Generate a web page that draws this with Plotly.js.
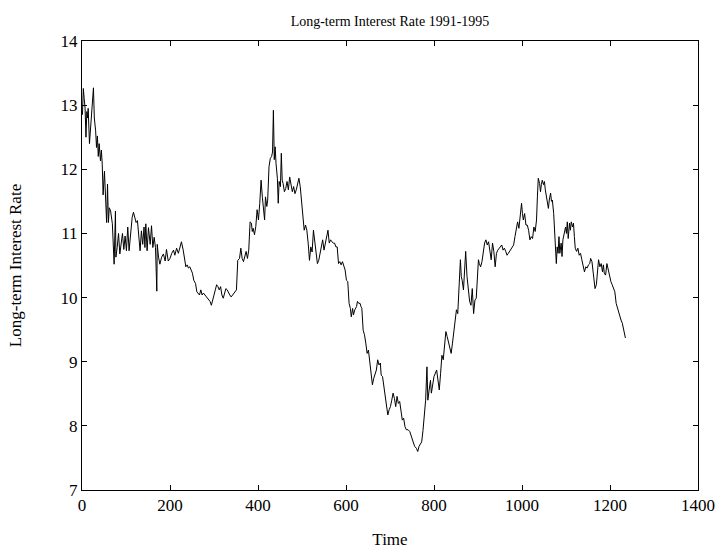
<!DOCTYPE html>
<html>
<head>
<meta charset="utf-8">
<script src="https://cdn.plot.ly/plotly-3.0.1.min.js"></script>
<style>html,body{margin:0;padding:0;background:#fff;}#chart{width:725px;height:554px;}</style>
</head>
<body>
<div id="chart"></div>
<script>
const timeIdx = [1,3,5,7,9,11,13,14,17,20,22,26,28,31,33,35,37,39,42,44,46,48,51,54,56,58,60,62,65,69,73,76,77,80,83,86,89,92,95,98,101,104,107,110,114,117,120,123,126,129,132,135,138,141,143,145,148,151,155,158,161,164,167,170,171,174,177,181,185,189,192,196,
200,204,208,211,215,219,223,226,230,234,236,239,242,245,248,251,254,258,261,264,267,270,273,276,279,282,285,288,291,294,297,300,303,306,309,312,315,318,321,324,327,330,333,336,339,342,345,348,351,354,358,361,364,367,370,373,376,379,382,385,387,389,392,395,398,401,404,407,410,415,417,420,422,425,428,431,433,435,437,439,441,444,446,448,451,453,455,457,460,463,466,469,472,475,478,481,484,487,490,493,496,499,502,505,508,511,514,517,520,523,526,529,532,535,538,541,544,547,550,553,556,559,562,565,568,571,574,577,580,583,586,589,592,595,598,601,604,607,
610,612,615,617,620,624,626,629,632,634,636,639,642,645,648,651,654,657,660,663,666,669,672,675,678,680,683,686,689,692,695,698,701,704,707,710,713,716,719,722,725,728,731,734,737,741,745,749,753,756,760,763,766,769,772,775,778,781,784,786,789,792,794,797,800,
806,809,812,815,818,821,824,827,830,833,836,839,842,845,848,851,854,857,860,862,864,867,870,872,875,878,881,884,887,890,893,896,899,901,903,906,909,912,915,918,921,924,927,930,933,936,939,942,945,948,951,954,957,960,963,966,969,972,975,978,981,984,987,990,993,996,999,1001,1003,1006,1009,1012,1015,1018,1021,1024,1027,1030,1033,1035,1037,1040,1042,1044,1046,1049,1051,1053,1056,1058,1060,1062,1065,1067,1069,1072,1074,1076,1078,1080,1082,1084,1086,1089,1091,1093,1096,1099,1101,1103,1105,1108,1110,1112,1115,1117,1119,1121,1124,1127,1130,1133,1136,1139,1142,1145,1148,1151,1154,1156,1159,1162,1164,1166,1169,1171,1174,1177,1180,1183,1185,1187,1190,1193,1196,1199,1202,1205,1208,1211,1214,1217,1220,1222,1225,1228,1231,1233,1235];
const rate = [12.85,13.26,13.1,12.95,12.5,12.9,12.8,12.95,12.4,12.65,12.8,13.27,12.8,12.6,12.34,12.52,12.2,12.4,12.13,12.3,12.08,11.6,11.97,11.45,11.17,11.77,11.17,11.4,11.35,11.15,10.52,11.35,10.63,10.78,11.0,10.68,10.83,11.0,10.75,10.96,10.73,11.1,10.73,11.0,11.25,11.33,11.25,11.17,11.2,10.9,10.73,11.04,10.83,11.1,10.78,11.15,10.73,11.09,10.83,11.12,10.78,10.94,10.78,10.1,10.83,10.63,10.52,10.63,10.68,10.57,10.75,10.57,
10.61,10.69,10.74,10.66,10.77,10.69,10.82,10.87,10.74,10.59,10.48,10.51,10.46,10.48,10.43,10.38,10.27,10.22,10.09,10.07,10.04,10.12,10.04,10.07,10.04,10.01,9.99,9.96,9.94,9.88,9.99,10.04,10.12,10.2,10.17,10.12,10.17,10.04,9.99,10.09,10.14,10.12,10.07,10.04,10.01,10.04,10.07,10.09,10.12,10.58,10.61,10.77,10.61,10.56,10.64,10.72,10.61,10.74,11.18,11.16,11.03,11.08,10.98,11.11,11.37,11.21,11.47,11.83,11.56,11.21,11.57,11.42,11.52,12.04,12.17,12.2,12.27,12.92,12.15,12.35,12.09,11.86,11.47,11.81,11.73,12.25,11.83,11.78,11.65,11.7,11.81,11.68,11.88,11.78,11.65,11.73,11.62,11.68,11.75,11.86,11.73,11.52,11.31,11.05,11.13,11.05,10.85,10.58,10.79,10.71,11.05,10.85,10.64,10.53,10.58,10.69,10.79,10.9,10.74,10.85,11.0,11.05,10.85,10.9,10.87,10.85,10.85,10.79,10.79,10.53,10.56,10.51,10.56,10.48,10.43,10.27,10.25,9.91,
9.83,9.7,9.83,9.73,9.81,9.86,9.94,9.91,9.91,9.86,9.83,9.49,9.42,9.29,9.13,9.18,8.98,8.77,8.64,8.74,8.82,8.87,9.03,8.95,8.98,8.79,8.77,8.61,8.51,8.3,8.17,8.25,8.3,8.4,8.51,8.43,8.3,8.46,8.35,8.38,8.2,8.09,8.12,7.99,7.94,7.94,7.91,7.83,7.73,7.68,7.65,7.6,7.68,7.73,7.75,7.93,8.12,8.4,8.92,8.4,8.56,8.71,8.51,8.66,8.77,
8.87,8.71,8.56,8.82,9.1,9.03,9.23,9.47,9.39,9.29,9.21,9.13,9.29,9.49,9.7,9.81,9.75,10.12,10.59,10.33,10.27,10.12,10.53,10.72,10.33,10.07,9.94,9.88,10.14,9.75,9.96,9.99,10.48,10.59,10.53,10.48,10.56,10.72,10.85,10.9,10.82,10.87,10.72,10.59,10.85,10.72,10.48,10.69,10.74,10.77,10.79,10.82,10.74,10.77,10.72,10.66,10.69,10.72,10.74,10.77,10.82,10.95,11.1,11.18,11.08,11.31,11.47,11.31,11.21,11.31,11.13,11.13,11.05,10.9,10.95,10.92,11.1,11.03,11.21,11.57,11.86,11.78,11.65,11.76,11.83,11.76,11.81,11.68,11.57,11.52,11.39,11.52,11.63,11.5,11.52,11.31,11.0,10.85,10.53,10.79,10.69,10.95,10.69,10.85,10.64,10.9,11.0,11.1,11.0,11.18,10.92,11.16,11.05,11.18,11.1,11.16,10.95,10.77,10.72,10.77,10.66,10.69,10.59,10.48,10.4,10.48,10.46,10.51,10.53,10.61,10.56,10.38,10.25,10.14,10.2,10.38,10.59,10.48,10.53,10.4,10.51,10.38,10.35,10.53,10.43,10.33,10.25,10.2,10.14,10.09,9.91,9.83,9.75,9.7,9.65,9.6,9.52,9.44,9.37];
const xTicks = [0,200,400,600,800,1000,1200,1400];
const yTicks = [7,8,9,10,11,12,13,14];

const serif = "Liberation Serif, Times New Roman, serif";
const axisCommon = {
  showline: true, linecolor: '#000', linewidth: 1, mirror: 'ticks',
  ticks: 'inside', ticklen: 5, tickcolor: '#000', tickwidth: 1,
  showgrid: false, zeroline: false,
  tickfont: {family: serif, size: 17, color: '#000'},
  automargin: false
};
const layout = {
  width: 725, height: 554,
  margin: {l: 82, r: 27, t: 41, b: 64},
  paper_bgcolor: '#fff', plot_bgcolor: '#fff',
  showlegend: false,
  title: {text: 'Long-term Interest Rate 1991-1995', font: {family: serif, size: 14, color: '#000'}, x: 0.5, xref: 'paper', y: 0.962, yanchor: 'middle'},
  xaxis: Object.assign({}, axisCommon, {range: [0, 1400], tickvals: xTicks, ticktext: xTicks.map(String),
    title: {text: 'Time', font: {family: serif, size: 17, color: '#000'}, standoff: 18}}),
  yaxis: Object.assign({}, axisCommon, {range: [7, 14], tickvals: yTicks, ticktext: yTicks.map(String),
    title: {text: 'Long-term Interest Rate', font: {family: serif, size: 17, color: '#000'}, standoff: 34}})
};
Plotly.newPlot('chart', [{
  x: timeIdx, y: rate, type: 'scatter', mode: 'lines',
  line: {color: '#000', width: 1}
}], layout, {staticPlot: true, displayModeBar: false});
</script>
</body>
</html>
